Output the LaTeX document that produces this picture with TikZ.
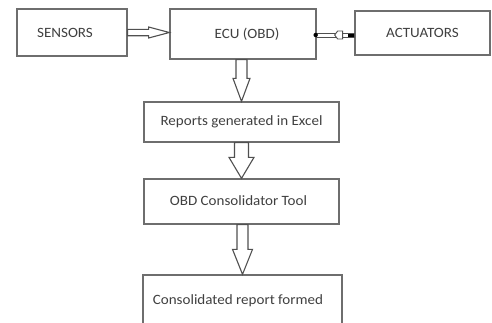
\documentclass[tikz,border=0pt]{standalone}
\usepackage{fontspec}
\setmainfont{Carlito}[FakeStretch=1.06]
\usetikzlibrary{calc}
\definecolor{boxgray}{HTML}{6E6E6E}
\definecolor{arrgray}{HTML}{505050}
\definecolor{txtgray}{HTML}{404040}
\newcommand\vblock[5]{%
  \draw[barrow] ($(#2.north |- #1.south)+(-#3,0)$) -- ($(#2.north)+(-#3,-#5)$) -- ($(#2.north)+(-#4,-#5)$) -- (#2.north) -- ($(#2.north)+(#4,-#5)$) -- ($(#2.north)+(#3,-#5)$) -- ($(#2.north |- #1.south)+(#3,0)$) -- cycle;}
\begin{document}
\begin{tikzpicture}[x=1pt,y=-1pt,
  box/.style={draw=boxgray,line width=1.3pt,fill=white,inner sep=0pt,text=txtgray,font=\fontsize{14.2}{16}\selectfont},
  barrow/.style={draw=arrgray,line width=1.1pt,fill=white,line join=miter}]
\useasboundingbox (0,0) rectangle (492,322);
\clip (0,0) rectangle (492,322);
\fill[white] (0,0) rectangle (492,322);
\node[box,minimum width=110pt,minimum height=47pt] (sensors) at (72,32.5) {\hspace*{-14pt}SENSORS};
\node[box,minimum width=146pt,minimum height=50pt] (ecu) at (243,34) {\hspace*{8pt}ECU (OBD)};
\node[box,minimum width=135pt,minimum height=44pt] (actuators) at (422.5,33) {ACTUATORS};
\node[box,minimum width=195pt,minimum height=40pt] (reports) at (241.5,122) {Reports generated in Excel};
\node[box,minimum width=195pt,minimum height=45pt] (obd) at (241.5,201.5) {\raisebox{2pt}{\hspace*{-6pt}OBD Consolidator Tool}};
\node[box,minimum width=199pt,minimum height=51pt] (cons) at (242.5,300.5) {\raisebox{-3pt}{\hspace*{-9pt}Consolidated report formed}};
% sensors -> ecu
\draw[barrow] ($(sensors.east)+(0,-3.2)$) -- ($(sensors.east)+(21,-3.2)$) -- ($(sensors.east)+(21,-5.5)$) -- (ecu.west |- sensors.east) -- ($(sensors.east)+(21,5.5)$) -- ($(sensors.east)+(21,3.2)$) -- ($(sensors.east)+(0,3.2)$) -- cycle;
% ecu <-> actuators
\draw[barrow,line width=0.9pt] ($(ecu.east)+(0,-1)$) rectangle ($(actuators.west |- ecu.east)+(0,3)$);
\draw[barrow,line width=0.9pt] ($(ecu.east)+(18,1)$) -- ($(ecu.east)+(21,-3)$) -- ($(ecu.east)+(26,-3)$) -- ($(ecu.east)+(26,5)$) -- ($(ecu.east)+(21,5)$) -- cycle;
\fill[black] ($(ecu.east)+(-1,1)$) circle (2.2);
\fill[black] ($(actuators.west |- ecu.east)+(-6,-0.5)$) rectangle ($(actuators.west |- ecu.east)+(0,2.5)$);
% vertical block arrows
\vblock{ecu}{reports}{5.5}{8.5}{23}
\vblock{reports}{obd}{7}{12.5}{21}
\vblock{obd}{cons}{5.5}{10}{25}
\end{tikzpicture}
\end{document}
